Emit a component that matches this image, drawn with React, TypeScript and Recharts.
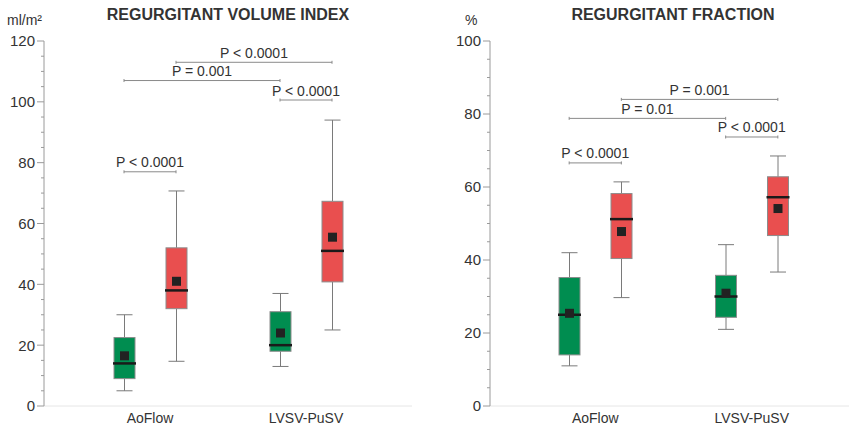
import { ComposedChart, Bar, XAxis, YAxis, ReferenceLine } from 'recharts';

const CATEGORIES = ['AoFlow', 'LVSV-PuSV'];

// Regurgitant volume index (ml/m²) – green group
const rviGreenMin = [5, 13];
const rviGreenQ1 = [9, 18];
const rviGreenMedian = [14, 20];
const rviGreenQ3 = [22.5, 31];
const rviGreenMax = [30, 37];
const rviGreenMean = [16.5, 24];

// Regurgitant volume index (ml/m²) – red group
const rviRedMin = [14.7, 25];
const rviRedQ1 = [32, 40.8];
const rviRedMedian = [38, 51];
const rviRedQ3 = [52, 67.3];
const rviRedMax = [70.7, 94];
const rviRedMean = [41, 55.5];

// Regurgitant fraction (%) – green group
const rfGreenMin = [11, 21];
const rfGreenQ1 = [14, 24.3];
const rfGreenMedian = [25, 30];
const rfGreenQ3 = [35.2, 35.8];
const rfGreenMax = [42, 44.2];
const rfGreenMean = [25.4, 30.9];

// Regurgitant fraction (%) – red group
const rfRedMin = [29.7, 36.7];
const rfRedQ1 = [40.4, 46.7];
const rfRedMedian = [51.2, 57.2];
const rfRedQ3 = [58.2, 62.8];
const rfRedMax = [61.4, 68.5];
const rfRedMean = [47.8, 54.1];

// Significance brackets; boxes are numbered 0..3 left to right
const rviBracketLabels = ['P < 0.0001', 'P = 0.001', 'P < 0.0001', 'P < 0.0001'];
const rviBracketFrom = [0, 0, 2, 1];
const rviBracketTo = [1, 2, 3, 3];
const rviBracketLevel = [77, 107, 100.6, 113];

const rfBracketLabels = ['P < 0.0001', 'P = 0.01', 'P < 0.0001', 'P = 0.001'];
const rfBracketFrom = [0, 0, 2, 1];
const rfBracketTo = [1, 2, 3, 3];
const rfBracketLevel = [66.6, 78.8, 73.7, 84];

const rviMajorTicks = [0, 20, 40, 60, 80, 100, 120];
const rfMajorTicks = [0, 20, 40, 60, 80, 100];

const GREEN = '#008d50';
const RED = '#e94f4f';
const WHISKER = '#7a7a7a';
const BOX_EDGE = '#8c8c8c';
const AXIS = '#9a9a9a';
const TEXT = '#333333';
const FONT = '"Liberation Sans", Arial, sans-serif';

type Stats = { min: number; q1: number; med: number; q3: number; max: number; mean: number };

function statsAt(min: number[], q1: number[], med: number[], q3: number[], max: number[], mean: number[], i: number): Stats {
  return { min: min[i], q1: q1[i], med: med[i], q3: q3[i], max: max[i], mean: mean[i] };
}

// pos = centre of the category band on a 0..N linear axis (used for the brackets)
function buildRows(green: number[][], red: number[][]) {
  return CATEGORIES.map((name, i) => {
    const g = statsAt(green[0], green[1], green[2], green[3], green[4], green[5], i);
    const r = statsAt(red[0], red[1], red[2], red[3], red[4], red[5], i);
    return { name, pos: i + 0.5, green: [g.min, g.max], red: [r.min, r.max], greenStats: g, redStats: r };
  });
}

const rviRows = buildRows(
  [rviGreenMin, rviGreenQ1, rviGreenMedian, rviGreenQ3, rviGreenMax, rviGreenMean],
  [rviRedMin, rviRedQ1, rviRedMedian, rviRedQ3, rviRedMax, rviRedMean],
);
const rfRows = buildRows(
  [rfGreenMin, rfGreenQ1, rfGreenMedian, rfGreenQ3, rfGreenMax, rfGreenMean],
  [rfRedMin, rfRedQ1, rfRedMedian, rfRedQ3, rfRedMax, rfRedMean],
);

// The bar spans min..max; the inner parts are placed linearly inside that span
function BoxShape(props: any) {
  const { x, y, width, height, stats, fill } = props;
  const top = Math.min(y, y + height);
  const bottom = Math.max(y, y + height);
  const s: Stats = stats;
  const py = (v: number) => top + ((s.max - v) / (s.max - s.min)) * (bottom - top);
  const cx = x + width / 2;
  const cap = 8;
  return (
    <g>
      <line x1={cx} x2={cx} y1={py(s.max)} y2={py(s.q3)} stroke={WHISKER} />
      <line x1={cx} x2={cx} y1={py(s.q1)} y2={py(s.min)} stroke={WHISKER} />
      <line x1={cx - cap} x2={cx + cap} y1={py(s.max)} y2={py(s.max)} stroke={WHISKER} />
      <line x1={cx - cap} x2={cx + cap} y1={py(s.min)} y2={py(s.min)} stroke={WHISKER} />
      <rect x={x} y={py(s.q3)} width={width} height={py(s.q1) - py(s.q3)} fill={fill} stroke={BOX_EDGE} />
      <line x1={x - 1} x2={x + width + 1} y1={py(s.med)} y2={py(s.med)} stroke="#1a1a1a" strokeWidth={2.5} />
      <rect x={cx - 4.5} y={py(s.mean) - 4.5} width={9} height={9} fill="#222" />
    </g>
  );
}

function Bracket(props: any) {
  const { x1, y1, x2, y2, text } = props;
  return (
    <g>
      <line x1={x1} x2={x2} y1={y1} y2={y2} stroke="#8a8a8a" />
      <line x1={x1} x2={x1} y1={y1 - 1.5} y2={y1 + 1.5} stroke="#8a8a8a" />
      <line x1={x2} x2={x2} y1={y1 - 1.5} y2={y1 + 1.5} stroke="#8a8a8a" />
      <text x={(x1 + x2) / 2} y={y1 - 4.5} textAnchor="middle" fontSize={14} fill={TEXT} fontFamily={FONT}>
        {text}
      </text>
    </g>
  );
}

const slotX = (k: number) => Math.floor(k / 2) + (k % 2 ? 2 / 3 : 1 / 3);

type PanelProps = {
  rows: any[];
  yMax: number;
  majors: number[];
  labels: string[];
  from: number[];
  to: number[];
  level: number[];
  width: number;
  yAxisWidth: number;
  padLeft: number;
  padRight: number;
  marginRight: number;
};

function Panel({ rows, yMax, majors, labels, from, to, level, width, yAxisWidth, padLeft, padRight, marginRight }: PanelProps) {
  const ticks = Array.from({ length: yMax / 5 + 1 }, (_, i) => i * 5);
  const renderTick = ({ x, y, payload }: any) => {
    const isMajor = majors.includes(payload.value);
    return (
      <g>
        <line x1={x - (isMajor ? 7 : 3)} x2={x} y1={y} y2={y} stroke={AXIS} />
        {isMajor && (
          <text x={x - 9} y={y} dy="0.36em" textAnchor="end" fontSize={15} fill={TEXT} fontFamily={FONT}>
            {payload.value}
          </text>
        )}
      </g>
    );
  };
  return (
    <ComposedChart
      width={width}
      height={428}
      data={rows}
      margin={{ top: 41, right: marginRight, bottom: 0, left: 0 }}
      barSize={21}
      barGap={31}
    >
      <XAxis
        dataKey="name"
        height={22}
        padding={{ left: padLeft, right: padRight }}
        axisLine={{ stroke: '#e6e6e6' }}
        tickLine={false}
        tickSize={0}
        tickMargin={7}
        tick={{ fontSize: 14, fill: TEXT, fontFamily: FONT }}
      />
      <XAxis
        xAxisId="pos"
        dataKey="pos"
        type="number"
        domain={[0, CATEGORIES.length]}
        allowDataOverflow
        hide
        padding={{ left: padLeft, right: padRight }}
      />
      <YAxis
        width={yAxisWidth}
        domain={[0, yMax]}
        ticks={ticks}
        interval={0}
        axisLine={{ stroke: AXIS }}
        tickLine={false}
        tickSize={0}
        tickMargin={0}
        tick={renderTick}
      />
      <Bar
        dataKey="green"
        isAnimationActive={false}
        shape={(p: any) => <BoxShape {...p} stats={p.payload.greenStats} fill={GREEN} />}
      />
      <Bar
        dataKey="red"
        isAnimationActive={false}
        shape={(p: any) => <BoxShape {...p} stats={p.payload.redStats} fill={RED} />}
      />
      {labels.map((text, i) => (
        <ReferenceLine
          key={i}
          xAxisId="pos"
          ifOverflow="visible"
          segment={[
            { x: slotX(from[i]), y: level[i] },
            { x: slotX(to[i]), y: level[i] },
          ]}
          shape={(p: any) => <Bracket {...p} text={text} />}
        />
      ))}
    </ComposedChart>
  );
}

export default function App() {
  return (
    <div style={{ position: 'absolute', left: 0, top: 0, width: 849, height: 428, background: '#fff', fontFamily: FONT }}>
      <div style={{ position: 'absolute', left: 0, top: 0 }}>
        <Panel
          rows={rviRows}
          yMax={120}
          majors={rviMajorTicks}
          labels={rviBracketLabels}
          from={rviBracketFrom}
          to={rviBracketTo}
          level={rviBracketLevel}
          width={420}
          yAxisWidth={44}
          padLeft={28}
          padRight={28}
          marginRight={8}
        />
      </div>
      <div style={{ position: 'absolute', left: 420, top: 0 }}>
        <Panel
          rows={rfRows}
          yMax={100}
          majors={rfMajorTicks}
          labels={rfBracketLabels}
          from={rfBracketFrom}
          to={rfBracketTo}
          level={rfBracketLevel}
          width={429}
          yAxisWidth={70}
          padLeft={27}
          padRight={19}
          marginRight={0}
        />
      </div>
      <svg width={849} height={428} style={{ position: 'absolute', left: 0, top: 0, pointerEvents: 'none' }}>
        <text x={228} y={20} textAnchor="middle" fontSize={16} fontWeight="bold" fill={TEXT} fontFamily={FONT}>
          REGURGITANT VOLUME INDEX
        </text>
        <text x={673} y={20} textAnchor="middle" fontSize={16} fontWeight="bold" fill={TEXT} fontFamily={FONT}>
          REGURGITANT FRACTION
        </text>
        <text x={7} y={25} fontSize={14} fill={TEXT} fontFamily={FONT}>
          ml/m²
        </text>
        <text x={465} y={25} fontSize={14} fill={TEXT} fontFamily={FONT}>
          %
        </text>
      </svg>
    </div>
  );
}
